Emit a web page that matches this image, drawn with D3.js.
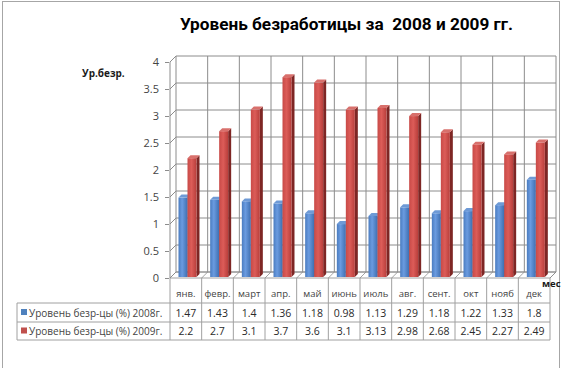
<!DOCTYPE html>
<html><head><meta charset="utf-8">
<script src="https://cdn.jsdelivr.net/npm/d3@7"></script>
<style>body{margin:0;background:#fff}svg{display:block}</style>
</head><body><svg id="c" width="564" height="368"></svg>
<script>
const months = ["янв.","февр.","март","апр.","май","июнь","июль","авг.","сент.","окт","нояб","дек"];
const values2008 = [1.47,1.43,1.4,1.36,1.18,0.98,1.13,1.29,1.18,1.22,1.33,1.8];
const values2009 = [2.2,2.7,3.1,3.7,3.6,3.1,3.13,2.98,2.68,2.45,2.27,2.49];
const seriesNames = ["Уровень безр-цы (%) 2008г.","Уровень безр-цы (%) 2009г."];
const yTicks = [0,0.5,1,1.5,2,2.5,3,3.5,4];
const labels = {title:"Уровень безработицы за  2008 и 2009 гг.", y:"Ур.безр.", x:"мес"};

const svg = d3.select("#c");
const FONT = "'Open Sans','Noto Sans',sans-serif";
const TFONT = "Roboto,'Open Sans',sans-serif";
const D = 6; // chart depth offset
const x = d3.scaleBand().domain(months).range([170,550]).paddingInner(0).paddingOuter(0);
const y = d3.scaleLinear().domain([0,4]).range([278,62]);
const bw = x.bandwidth();

// outer border
svg.append("rect").attr("x",2.5).attr("y",1.5).attr("width",557).attr("height",380)
  .attr("fill","#fff").attr("stroke","#a6a6a6");

const grid = "#8c8c8c";
const g = svg.append("g");
g.append("path").attr("d",`M${x.range()[0]},${y(0)}L${x.range()[0]+D},${y(0)-D}L${x.range()[1]+D},${y(0)-D}L${x.range()[1]},${y(0)}Z`)
  .attr("fill","#fff").attr("stroke",grid).attr("stroke-width",0.8);
yTicks.forEach(v=>{
  const yy = y(v);
  g.append("line").attr("x1",x.range()[0]+D).attr("x2",x.range()[1]+D).attr("y1",yy-D).attr("y2",yy-D)
    .attr("stroke",grid).attr("stroke-width",1);
  g.append("line").attr("x1",x.range()[0]).attr("x2",x.range()[0]+D).attr("y1",yy).attr("y2",yy-D)
    .attr("stroke",grid).attr("stroke-width",1);
});
months.concat(["__end"]).forEach((m,i)=>{
  const xx = (i<months.length? x(m): x.range()[1]) + D;
  g.append("line").attr("x1",xx).attr("x2",xx).attr("y1",y(0)-D).attr("y2",y(4)-D)
    .attr("stroke",grid).attr("stroke-width",1);
  g.append("line").attr("x1",xx-D).attr("x2",xx).attr("y1",y(0)).attr("y2",y(0)-D)
    .attr("stroke",grid).attr("stroke-width",0.8);
});
g.append("line").attr("x1",x.range()[0]).attr("x2",x.range()[0]).attr("y1",y(0)).attr("y2",y(4))
  .attr("stroke",grid).attr("stroke-width",1);
g.append("line").attr("x1",x.range()[0]).attr("x2",x.range()[0]+D).attr("y1",y(4)).attr("y2",y(4)-D)
  .attr("stroke",grid).attr("stroke-width",1);
const yAxis = d3.axisLeft(y).tickValues(yTicks).tickFormat(d3.format("")).tickSize(4).tickPadding(6);
const ya = svg.append("g").attr("transform",`translate(${x.range()[0]-1},0)`).call(yAxis);
ya.select(".domain").remove();
ya.selectAll(".tick line").attr("stroke",grid);
ya.selectAll(".tick text").attr("font-family",FONT).attr("font-size",11).attr("fill","#444");

const defs = svg.append("defs");
function grad(id, stops){
  const lg = defs.append("linearGradient").attr("id",id).attr("x1","0").attr("x2","1").attr("y1","0").attr("y2","0");
  stops.forEach(([o,c])=>lg.append("stop").attr("offset",o).attr("stop-color",c));
}
grad("gb",[[0,"#4a7cc0"],[0.4,"#6a9be0"],[1,"#3f6fb0"]]);
grad("gr",[[0,"#c84a47"],[0.45,"#dc5c58"],[1,"#b83e3b"]]);

const series = [
  {vals:values2008, front:"url(#gb)", side:"#2f568c", top:"#6e9ad6", off:8.5},
  {vals:values2009, front:"url(#gr)", side:"#7e2624", top:"#d8706c", off:17.5}
];
const bd = 3, barW = 9, shift = 1;
series.forEach(s=>{
  const bg = svg.append("g");
  months.forEach((m,i)=>{
    const x0 = x(m)+s.off, y0 = y(0)-shift, y1 = y(s.vals[i])-shift;
    bg.append("path").attr("d",`M${x0+barW},${y1}L${x0+barW+bd},${y1-bd}L${x0+barW+bd},${y0-bd}L${x0+barW},${y0}Z`).attr("fill",s.side);
    bg.append("path").attr("d",`M${x0},${y1}L${x0+bd},${y1-bd}L${x0+barW+bd},${y1-bd}L${x0+barW},${y1}Z`).attr("fill",s.top);
    bg.append("rect").attr("x",x0).attr("y",y1).attr("width",barW).attr("height",y0-y1).attr("fill",s.front);
  });
});

function fitText(t, maxW){
  const w = t.node().getComputedTextLength();
  if (w>maxW){ const fs = parseFloat(t.attr("font-size")); t.attr("font-size", (fs*maxW/w).toFixed(2)); }
}

const tb = svg.append("g");
const rowY = [303,322,340];
const tc = "#a0a0a0";
months.concat(["__end"]).forEach((m,i)=>{
  const xx = i<months.length? x(m): x.range()[1];
  tb.append("line").attr("x1",xx).attr("x2",xx).attr("y1",y(0)).attr("y2",rowY[2]).attr("stroke",tc);
});
rowY.forEach(yy=>tb.append("line").attr("x1",17).attr("x2",x.range()[1]).attr("y1",yy).attr("y2",yy).attr("stroke",tc));
tb.append("line").attr("x1",17).attr("x2",17).attr("y1",rowY[0]).attr("y2",rowY[2]).attr("stroke",tc);
months.forEach(m=>{
  const t = tb.append("text").attr("x",x(m)+bw/2).attr("y",297).attr("text-anchor","middle")
    .attr("font-family",FONT).attr("font-size",9.5).attr("fill","#444").text(m);
  fitText(t, bw-3);
});
[values2008,values2009].forEach((vals,r)=>{
  const cy = (rowY[r]+rowY[r+1])/2+4;
  vals.forEach((v,i)=>{
    tb.append("text").attr("x",x(months[i])+bw/2).attr("y",cy).attr("text-anchor","middle")
      .attr("font-family",FONT).attr("font-size",10.5).attr("fill","#2a2a2a").text(v);
  });
  tb.append("rect").attr("x",21).attr("y",cy-7.5).attr("width",6).attr("height",6)
    .attr("fill",r===0?"#4f81bd":"#c0504d");
  const t = tb.append("text").attr("x",29).attr("y",cy).attr("font-family",FONT).attr("font-size",10)
    .attr("fill","#444").text(seriesNames[r]);
  fitText(t, 138);
});

const tt = svg.append("text").attr("x",180).attr("y",30).attr("font-family",TFONT).attr("font-weight","bold")
  .attr("font-size",20).attr("fill","#000").attr("xml:space","preserve").text(labels.title);
fitText(tt, 333);
svg.append("text").attr("x",82).attr("y",77).attr("font-family",FONT).attr("font-weight","bold")
  .attr("font-size",10).attr("fill","#1a1a1a").text(labels.y);
svg.append("text").attr("x",542).attr("y",287).attr("font-family",FONT).attr("font-weight","bold")
  .attr("font-size",9.5).attr("fill","#1a1a1a").text(labels.x);
</script></body></html>
